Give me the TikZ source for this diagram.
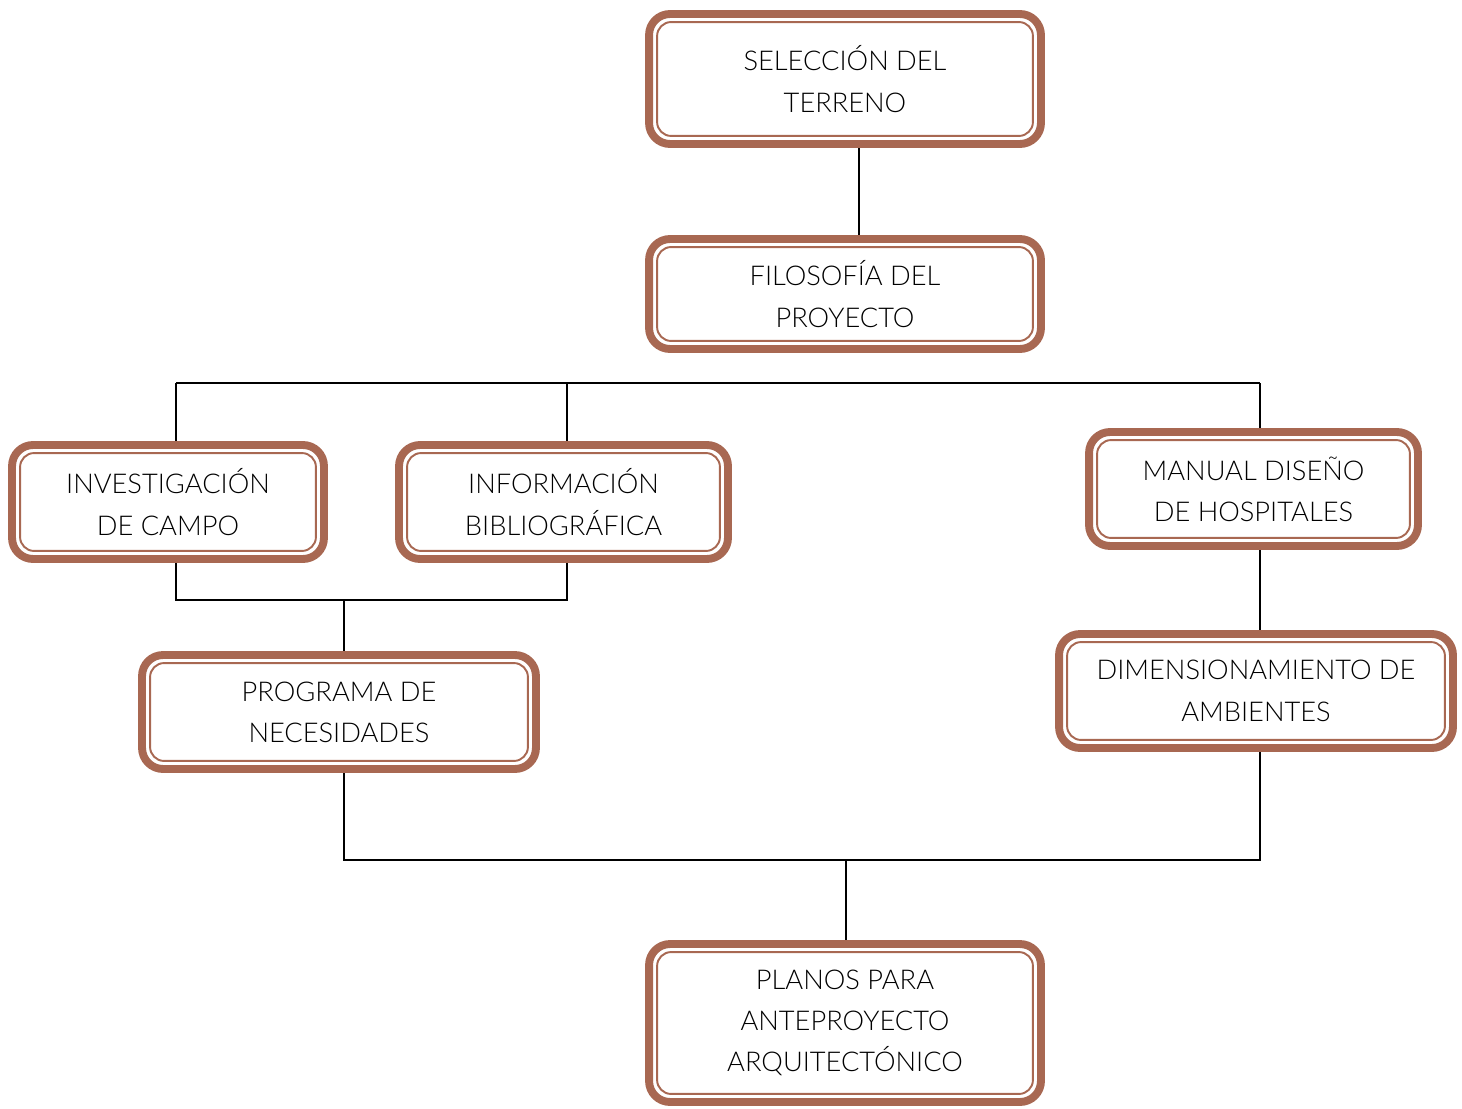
\documentclass[tikz,border=0pt]{standalone}
\usepackage{fontspec}
\IfFontExistsTF{Lato Light}{\setmainfont{Lato Light}}{\setmainfont{Lato}}
\usetikzlibrary{backgrounds}

\definecolor{boxbrown}{RGB}{168,104,82}

\tikzset{
  stagebox/.style={draw=boxbrown,fill=white,line width=4.5pt,
    rounded corners=0.42cm,align=center,font=\fontsize{15.5}{23.5}\selectfont},
  innerline/.style={draw=boxbrown,line width=1.1pt,rounded corners=0.28cm},
  link/.style={line width=1.1pt,black}
}

\begin{document}
\begin{tikzpicture}[x=0.02cm,y=-0.02cm,line cap=round,line join=round]
    \useasboundingbox (0,0) rectangle (1462,1108);

    % The eight stages of the process.
    \node[stagebox,minimum width=7.84cm,minimum height=2.60cm] (sel)
      at (845,79) {SELECCIÓN DEL\\TERRENO};
    \node[stagebox,minimum width=7.84cm,minimum height=2.20cm] (fil)
      at (845,294) {FILOSOFÍA DEL\\PROYECTO};
    \node[stagebox,minimum width=6.24cm,minimum height=2.28cm] (inv)
      at (168,502) {INVESTIGACIÓN\\DE CAMPO};
    \node[stagebox,minimum width=6.58cm,minimum height=2.28cm] (info)
      at (563.5,502) {INFORMACIÓN\\BIBLIOGRÁFICA};
    \node[stagebox,minimum width=6.58cm,minimum height=2.28cm] (man)
      at (1253.5,489) {MANUAL DISEÑO\\DE HOSPITALES};
    \node[stagebox,minimum width=7.88cm,minimum height=2.28cm] (prog)
      at (339,712) {PROGRAMA DE\\NECESIDADES};
    \node[stagebox,minimum width=7.88cm,minimum height=2.28cm] (dim)
      at (1256,691) {DIMENSIONAMIENTO DE\\AMBIENTES};
    \node[stagebox,minimum width=7.84cm,minimum height=3.16cm] (plan)
      at (845,1023) {PLANOS PARA\\ANTEPROYECTO\\ARQUITECTÓNICO};

    % Thin inner frame of every box.
    \foreach \n in {sel,fil,inv,info,man,prog,dim,plan}
      \draw[innerline] ([shift={(12,12)}]\n.north west)
        rectangle ([shift={(-12,-12)}]\n.south east);

    % Junction points of the connectors.
    \coordinate (tA) at (176,383);
    \coordinate (tB) at (567,383);
    \coordinate (tC) at (1260,383);
    \coordinate (jA) at (176,600);
    \coordinate (jB) at (567,600);
    \coordinate (jM) at (344,600);
    \coordinate (kA) at (344,860);
    \coordinate (kB) at (1260,860);
    \coordinate (kM) at (846,860);

    \begin{scope}[on background layer]
      \draw[link] ([xshift=0.28cm]sel.south) -- ([xshift=0.28cm]fil.north);
      \draw[link] (tA) -- (tC);
      \draw[link] (tA) -- (tA |- inv.north);
      \draw[link] (tB) -- (tB |- info.north);
      \draw[link] (tC) -- (tC |- man.north);
      \draw[link] (jA |- inv.south) -- (jA) -- (jB) -- (jB |- info.south);
      \draw[link] (jM) -- (jM |- prog.north);
      \draw[link] (tC |- man.south) -- (tC |- dim.north);
      \draw[link] (kA |- prog.south) -- (kA) -- (kB) -- (kB |- dim.south);
      \draw[link] (kM) -- (kM |- plan.north);
    \end{scope}
\end{tikzpicture}
\end{document}
